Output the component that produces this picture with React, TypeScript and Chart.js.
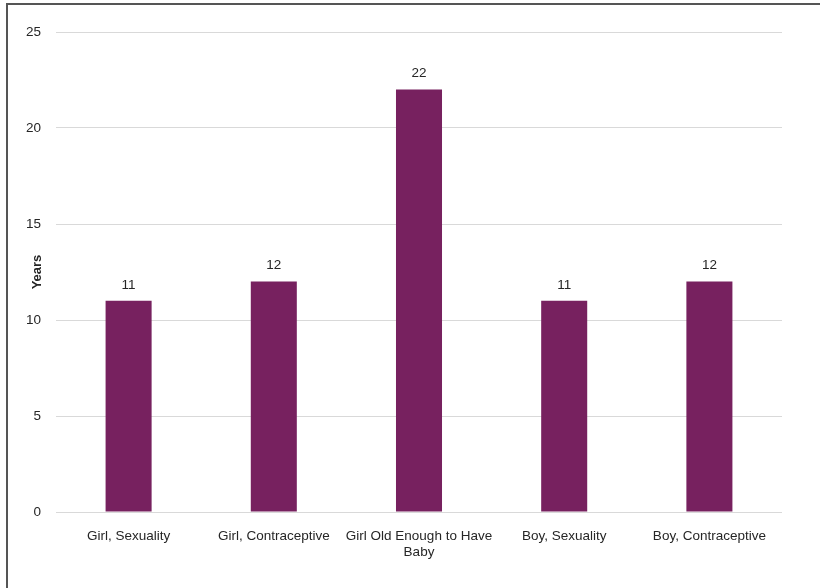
import React, { useEffect, useRef } from "react";
import { Chart, registerables } from "chart.js";

Chart.register(...registerables);

const categories: (string | string[])[] = [
  "Girl, Sexuality",
  "Girl, Contraceptive",
  ["Girl Old Enough to Have", "Baby"],
  "Boy, Sexuality",
  "Boy, Contraceptive",
];
const years = [11, 12, 22, 11, 12];
const yTicks = [0, 5, 10, 15, 20, 25];

const FONT = "'Liberation Sans', Arial, sans-serif";
const TEXT = "#262626";

const valueLabels = {
  id: "valueLabels",
  afterDatasetsDraw(chart: any) {
    const ctx = chart.ctx;
    const meta = chart.getDatasetMeta(0);
    ctx.save();
    ctx.fillStyle = TEXT;
    ctx.font = `13.5px ${FONT}`;
    ctx.textAlign = "center";
    ctx.textBaseline = "middle";
    meta.data.forEach((bar: any, i: number) => {
      ctx.fillText(String(chart.data.datasets[0].data[i]), bar.x, bar.y - 16);
    });
    ctx.restore();
  },
};

export default function App() {
  const ref = useRef<HTMLCanvasElement | null>(null);
  useEffect(() => {
    if (!ref.current) return;
    const chart = new Chart(ref.current, {
      type: "bar",
      data: {
        labels: categories,
        datasets: [
          {
            data: years,
            backgroundColor: "#77215F",
            borderWidth: 0,
            categoryPercentage: 1,
            barPercentage: 0.317,
          },
        ],
      },
      plugins: [valueLabels],
      options: {
        responsive: false,
        animation: false,
        layout: { padding: { top: 32, right: 38, left: 0, bottom: 0 } },
        plugins: {
          legend: { display: false },
          tooltip: { enabled: false },
        },
        scales: {
          x: {
            grid: { display: false },
            border: { display: false },
            ticks: {
              color: TEXT,
              font: { family: FONT, size: 13.5 },
              padding: 8,
              maxRotation: 0,
              autoSkip: false,
            },
            afterFit: (s: any) => {
              s.height = 76;
            },
          },
          y: {
            min: 0,
            max: 25,
            afterBuildTicks: (s: any) => {
              s.ticks = yTicks.map((v) => ({ value: v }));
            },
            grid: { color: "#d9d9d9", drawTicks: false, lineWidth: 1 },
            border: { display: false },
            ticks: {
              color: TEXT,
              font: { family: FONT, size: 13.5 },
              padding: 15,
            },
            title: {
              display: true,
              text: "Years",
              color: TEXT,
              font: { family: FONT, size: 13, weight: "bold" },
              padding: { top: 30, bottom: 0 },
            },
            afterFit: (s: any) => {
              s.width = 56;
            },
          },
        },
      },
    });
    return () => chart.destroy();
  }, []);

  return (
    <div>
      <canvas
        ref={ref}
        width={820}
        height={588}
        style={{ position: "fixed", left: 0, top: 0, display: "block" }}
      />
      <div
        style={{
          position: "fixed",
          left: 6,
          top: 3,
          width: 830,
          height: 600,
          borderLeft: "2px solid #555555",
          borderTop: "2px solid #555555",
          pointerEvents: "none",
        }}
      />
    </div>
  );
}
